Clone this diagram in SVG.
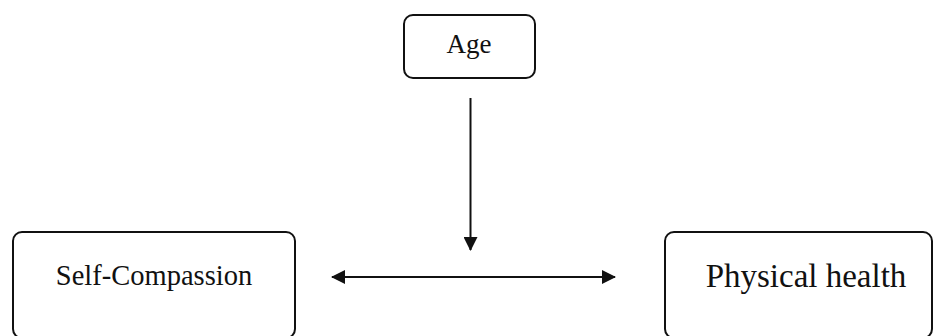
<svg xmlns="http://www.w3.org/2000/svg" width="936" height="336" viewBox="0 0 936 336">
<style>
.box{fill:#fff;stroke:#111;stroke-width:2}
.lbl{font-family:"Liberation Serif","Times New Roman",serif;fill:#111}
.conn{stroke:#111;stroke-width:2;fill:none}
</style>
<defs>
<marker id="ah" viewBox="0 0 14 14" refX="13" refY="7" markerWidth="14" markerHeight="14" markerUnits="userSpaceOnUse" orient="auto-start-reverse">
<path d="M0,0 L14,7 L0,14 Z" fill="#111"/>
</marker>
</defs>
<rect width="936" height="336" fill="#fff"/>
<g id="age">
<rect class="box" x="404" y="15" width="131" height="63" rx="9"/>
<text class="lbl" x="469" y="53" font-size="27" text-anchor="middle">Age</text>
</g>
<g id="self-compassion">
<rect class="box" x="13" y="232" width="282" height="106" rx="9"/>
<text class="lbl" x="154" y="285" font-size="28.5" text-anchor="middle">Self-Compassion</text>
</g>
<g id="physical-health">
<rect class="box" x="665" y="232" width="267" height="106" rx="9"/>
<text class="lbl" x="806" y="287" font-size="33" text-anchor="middle">Physical health</text>
</g>
<g id="connectors">
<line class="conn" x1="470.5" y1="98" x2="470.5" y2="250" marker-end="url(#ah)"/>
<line class="conn" x1="332" y1="277" x2="615" y2="277" marker-start="url(#ah)" marker-end="url(#ah)"/>
</g>
</svg>
